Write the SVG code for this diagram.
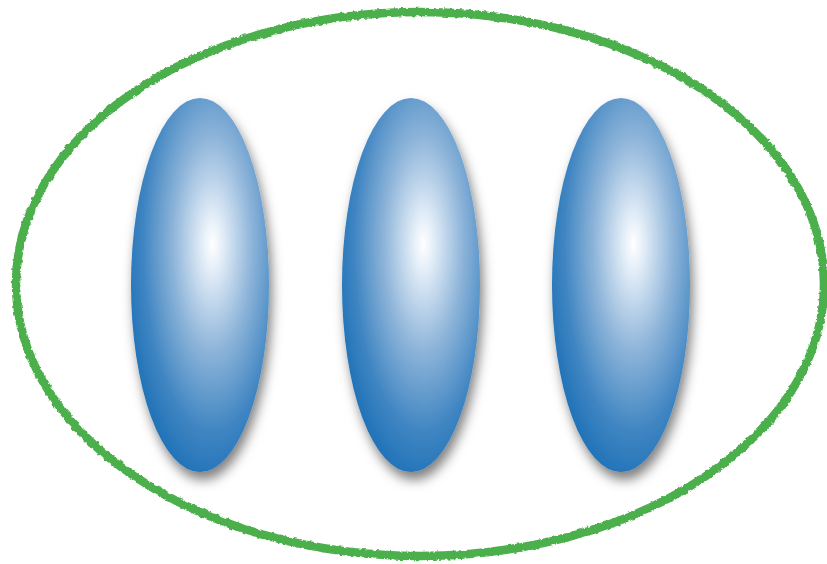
<svg xmlns="http://www.w3.org/2000/svg" width="827" height="564" viewBox="0 0 827 564">
  <defs>
    <radialGradient id="blueGrad" cx="0.59" cy="0.39" r="0.72" fx="0.59" fy="0.39">
      <stop offset="0" stop-color="#ffffff"/>
      <stop offset="0.1" stop-color="#e4eef8"/>
      <stop offset="0.4" stop-color="#8db4d9"/>
      <stop offset="0.7" stop-color="#3f85c2"/>
      <stop offset="1" stop-color="#0f68b2"/>
    </radialGradient>
    <filter id="shadow" x="-30%" y="-20%" width="160%" height="140%">
      <feDropShadow dx="3" dy="8" stdDeviation="6" flood-color="#000" flood-opacity="0.5"/>
    </filter>
    <filter id="rough" x="-5%" y="-5%" width="110%" height="110%">
      <feTurbulence type="fractalNoise" baseFrequency="0.25" numOctaves="3" seed="4" result="noise"/>
      <feDisplacementMap in="SourceGraphic" in2="noise" scale="3.5" xChannelSelector="R" yChannelSelector="G"/>
    </filter>
    <style>
      .pill { fill: url(#blueGrad); filter: url(#shadow); }
      .border { fill: none; stroke: #4caf4c; stroke-width: 8.5; filter: url(#rough); }
    </style>
  </defs>
  <rect width="827" height="564" fill="#ffffff"/>
  <g id="outer">
    <ellipse class="border" cx="420" cy="284" rx="404" ry="272"/>
  </g>
  <g id="node1">
    <ellipse class="pill" cx="200" cy="285" rx="69" ry="187"/>
  </g>
  <g id="node2">
    <ellipse class="pill" cx="411" cy="285" rx="69" ry="187"/>
  </g>
  <g id="node3">
    <ellipse class="pill" cx="621" cy="285" rx="69" ry="187"/>
  </g>
  <g id="connectors"/>
</svg>
